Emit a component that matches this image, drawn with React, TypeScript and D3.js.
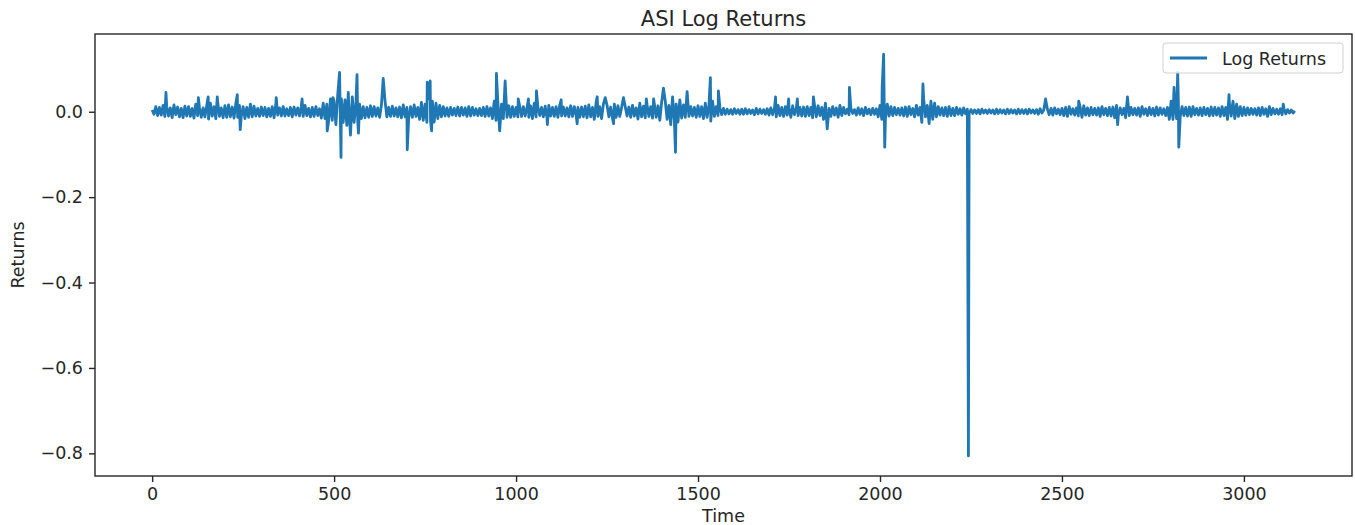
import React, { useEffect, useRef } from "react";
import * as d3 from "d3";

// ASI daily log returns, every 5 days (t = 0, 5, ... 3140)
const bandReturns = [
  0.004, -0.006, 0.012, -0.009, 0.01, -0.008, 0.015, -0.011, 0.013, -0.01, 0.009, -0.014, 0.016, -0.007, 0.011, -0.012, 0.008, -0.014, 0.013, -0.01,
  0.012, -0.011, 0.008, -0.015, 0.018, -0.009, 0.01, -0.013, 0.009, -0.012, 0.014, -0.017, 0.02, -0.01, 0.012, -0.016, 0.024, -0.011, 0.009, -0.014,
  0.014, -0.013, 0.016, -0.012, 0.011, -0.015, 0.02, -0.013, 0.015, -0.011, 0.012, -0.016, 0.01, -0.013, 0.018, -0.012, 0.013, -0.01, 0.008, -0.011,
  0.011, -0.009, 0.01, -0.012, 0.008, -0.011, 0.012, -0.014, 0.019, -0.008, 0.009, -0.01, 0.012, -0.01, 0.007, -0.009, 0.01, -0.012, 0.011, -0.008,
  0.009, -0.01, 0.013, -0.011, 0.015, -0.009, 0.008, -0.012, 0.01, -0.011, 0.012, -0.009, 0.007, -0.015, 0.02, -0.016, 0.018, -0.022, 0.03, -0.02,
  0.025, -0.03, 0.04, -0.028, 0.03, -0.025, 0.028, -0.032, 0.022, -0.03, 0.035, -0.025, 0.02, -0.022, 0.018, -0.016, 0.012, -0.014, 0.01, -0.013,
  0.014, -0.011, 0.012, -0.01, 0.009, -0.013, 0.015, -0.018, 0.025, -0.012, 0.01, -0.011, 0.013, -0.01, 0.009, -0.012, 0.011, -0.014, 0.016, -0.012,
  0.01, -0.015, 0.012, -0.013, 0.016, -0.011, 0.01, -0.018, 0.022, -0.02, 0.018, -0.025, 0.03, -0.022, 0.025, -0.024, 0.02, -0.016, 0.015, -0.012,
  0.012, -0.01, 0.009, -0.011, 0.01, -0.008, 0.008, -0.009, 0.011, -0.01, 0.01, -0.008, 0.009, -0.011, 0.012, -0.01, 0.01, -0.008, 0.007, -0.009,
  0.008, -0.009, 0.01, -0.011, 0.012, -0.01, 0.009, -0.016, 0.025, -0.02, 0.022, -0.02, 0.018, -0.016, 0.015, -0.013, 0.014, -0.013, 0.012, -0.011,
  0.01, -0.012, 0.013, -0.011, 0.012, -0.01, 0.009, -0.013, 0.014, -0.016, 0.02, -0.012, 0.011, -0.009, 0.01, -0.012, 0.013, -0.014, 0.015, -0.01,
  0.01, -0.011, 0.012, -0.013, 0.015, -0.01, 0.011, -0.01, 0.009, -0.012, 0.014, -0.011, 0.012, -0.009, 0.01, -0.013, 0.011, -0.012, 0.013, -0.014,
  0.016, -0.012, 0.01, -0.018, 0.022, -0.011, 0.012, -0.016, 0.018, -0.014, 0.015, -0.012, 0.011, -0.016, 0.018, -0.013, 0.014, -0.011, 0.01, -0.012,
  0.012, -0.01, 0.011, -0.013, 0.015, -0.01, 0.009, -0.017, 0.02, -0.012, 0.013, -0.014, 0.016, -0.011, 0.012, -0.015, 0.018, -0.013, 0.014, -0.02,
  0.022, -0.02, 0.025, -0.018, 0.015, -0.03, 0.035, -0.02, 0.018, -0.024, 0.028, -0.015, 0.016, -0.013, 0.014, -0.011, 0.012, -0.01, 0.01, -0.013,
  0.014, -0.011, 0.012, -0.016, 0.02, -0.013, 0.015, -0.022, 0.025, -0.011, 0.012, -0.009, 0.01, -0.007, 0.008, -0.006, 0.006, -0.005, 0.005, -0.006,
  0.007, -0.004, 0.005, -0.006, 0.006, -0.006, 0.007, -0.005, 0.005, -0.004, 0.004, -0.007, 0.008, -0.005, 0.006, -0.004, 0.005, -0.006, 0.007, -0.008,
  0.009, -0.007, 0.008, -0.012, 0.015, -0.009, 0.01, -0.011, 0.012, -0.008, 0.009, -0.013, 0.014, -0.007, 0.008, -0.009, 0.01, -0.01, 0.011, -0.011,
  0.012, -0.009, 0.01, -0.014, 0.016, -0.012, 0.014, -0.009, 0.01, -0.018, 0.02, -0.009, 0.008, -0.011, 0.012, -0.008, 0.009, -0.013, 0.015, -0.009,
  0.01, -0.005, 0.006, -0.007, 0.008, -0.004, 0.005, -0.008, 0.009, -0.006, 0.007, -0.009, 0.01, -0.005, 0.006, -0.007, 0.008, -0.006, 0.007, -0.012,
  0.015, -0.018, 0.02, -0.016, 0.018, -0.01, 0.012, -0.009, 0.01, -0.007, 0.008, -0.008, 0.009, -0.01, 0.011, -0.011, 0.012, -0.007, 0.008, -0.012,
  0.015, -0.008, 0.01, -0.025, 0.03, -0.012, 0.015, -0.028, 0.025, -0.018, 0.02, -0.012, 0.012, -0.008, 0.009, -0.009, 0.01, -0.011, 0.012, -0.009,
  0.008, -0.009, 0.01, -0.006, 0.007, -0.008, 0.009, -0.005, 0.006, -0.004, 0.005, -0.004, 0.004, -0.004, 0.005, -0.005, 0.006, -0.003, 0.004, -0.004,
  0.005, -0.003, 0.004, -0.005, 0.006, -0.004, 0.005, -0.003, 0.004, -0.005, 0.006, -0.004, 0.005, -0.003, 0.004, -0.005, 0.006, -0.004, 0.005, -0.004,
  0.005, -0.005, 0.006, -0.003, 0.004, -0.004, 0.005, -0.006, 0.007, -0.003, 0.004, -0.005, 0.006, -0.007, 0.008, -0.008, 0.009, -0.005, 0.006, -0.007,
  0.008, -0.009, 0.01, -0.011, 0.012, -0.006, 0.007, -0.008, 0.009, -0.01, 0.011, -0.013, 0.014, -0.008, 0.009, -0.009, 0.01, -0.007, 0.008, -0.008,
  0.009, -0.011, 0.012, -0.007, 0.008, -0.009, 0.01, -0.01, 0.011, -0.014, 0.015, -0.008, 0.009, -0.007, 0.008, -0.014, 0.016, -0.009, 0.01, -0.007,
  0.008, -0.008, 0.009, -0.011, 0.012, -0.006, 0.007, -0.009, 0.01, -0.007, 0.008, -0.01, 0.011, -0.008, 0.009, -0.006, 0.007, -0.009, 0.01, -0.018,
  0.025, -0.018, 0.02, -0.016, 0.018, -0.011, 0.012, -0.009, 0.01, -0.01, 0.011, -0.011, 0.012, -0.007, 0.008, -0.008, 0.009, -0.009, 0.01, -0.007,
  0.008, -0.01, 0.011, -0.009, 0.01, -0.008, 0.009, -0.011, 0.012, -0.009, 0.01, -0.018, 0.022, -0.01, 0.025, -0.016, 0.018, -0.011, 0.012, -0.009,
  0.01, -0.008, 0.009, -0.007, 0.008, -0.006, 0.007, -0.008, 0.009, -0.009, 0.01, -0.006, 0.007, -0.011, 0.012, -0.007, 0.008, -0.005, 0.006, -0.006,
  0.007, -0.007, 0.008, -0.005, 0.005, -0.003, 0.004, -0.003, 0.002,
];

// single-day spikes that stand out of the band
const spikeDays = [
  38, 127, 154, 179, 234, 242, 341, 412, 481, 497, 515, 519, 539, 545, 563, 567,
  635, 701, 756, 764, 768, 946, 955, 970, 1006, 1034, 1056, 1086, 1124, 1168,
  1223, 1245, 1268, 1295, 1358, 1378, 1405, 1438, 1470, 1534, 1556, 1713, 1749,
  1773, 1817, 1855, 1916, 2006, 2010, 2013, 2118, 2243, 2455, 2546, 2653, 2680,
  2808, 2818, 2821, 2959, 3108,
];
const spikeReturns = [
  0.045, 0.033, 0.035, 0.035, 0.04, -0.042, 0.033, 0.03, -0.045, 0.033, 0.092,
  -0.107, 0.045, -0.055, 0.087, -0.05, 0.078, -0.089, 0.069, 0.072, -0.045,
  0.09, -0.045, 0.072, 0.03, 0.03, 0.049, -0.03, 0.028, -0.028,
  0.035, 0.033, -0.028, 0.033, 0.03, 0.03, 0.055, -0.095, 0.047, 0.08, 0.049, 0.035, 0.03,
  0.03, 0.035, -0.04, 0.057, 0.057, 0.135, -0.083, 0.065, -0.806, 0.03, 0.025, -0.03, 0.035,
  0.057, 0.092, -0.083, 0.04, 0.018,
];

const xTicks = [0, 500, 1000, 1500, 2000, 2500, 3000];
const yTicks = [0, -0.2, -0.4, -0.6, -0.8];

const W = 1355;
const H = 525;
const FONT = "DejaVu Sans, sans-serif";
const BLUE = "#1f77b4";
const INK = "#262626";

const App = () => {
  const svgRef = useRef<SVGSVGElement | null>(null);

  useEffect(() => {
    if (!svgRef.current) return;
    const svg = d3.select(svgRef.current);
    svg.selectAll("*").remove();

    const byDay = new Map<number, number>();
    bandReturns.forEach((v, i) => byDay.set(i * 5, v));
    spikeDays.forEach((t, i) => byDay.set(t, spikeReturns[i]));
    const series = Array.from(byDay, ([t, v]) => ({ t, v })).sort((a, b) => a.t - b.t);

    const margin = { top: 34, right: 3, bottom: 49, left: 95 };
    const width = W - margin.left - margin.right;
    const height = H - margin.top - margin.bottom;

    // matplotlib style 5% padding around the data
    const [t0, t1] = d3.extent(series, (d) => d.t) as [number, number];
    const [v0, v1] = d3.extent(series, (d) => d.v) as [number, number];
    const tp = (t1 - t0) * 0.05;
    const vp = (v1 - v0) * 0.05;

    const x = d3.scaleLinear().domain([t0 - tp, t1 + tp]).range([0, width]);
    const y = d3.scaleLinear().domain([v0 - vp, v1 + vp]).range([height, 0]);

    svg
      .append("text")
      .attr("x", margin.left + width / 2)
      .attr("y", 25.5)
      .attr("text-anchor", "middle")
      .style("font-family", FONT)
      .style("font-size", "21px")
      .style("fill", INK)
      .text("ASI Log Returns");

    const g = svg
      .append("g")
      .attr("transform", `translate(${margin.left},${margin.top})`);

    const fmt = (d: number) => d3.format(".1f")(d).replace("-", "\u2212");

    const xAxis = g
      .append("g")
      .attr("transform", `translate(0,${height})`)
      .call(d3.axisBottom(x).tickValues(xTicks).tickSize(6).tickPadding(6).tickFormat(d3.format("d")));
    const yAxis = g
      .append("g")
      .call(d3.axisLeft(y).tickValues(yTicks).tickSize(6).tickPadding(6).tickFormat((d) => fmt(d as number)));

    [xAxis, yAxis].forEach((a) => {
      a.select(".domain").remove();
      a.selectAll(".tick line").attr("stroke", INK).attr("stroke-width", 1.4);
      a.selectAll("text")
        .style("font-family", FONT)
        .style("font-size", "17.5px")
        .style("fill", INK);
    });

    const line = d3
      .line<{ t: number; v: number }>()
      .x((d) => x(d.t))
      .y((d) => y(d.v));

    g.append("path")
      .datum(series)
      .attr("fill", "none")
      .attr("stroke", BLUE)
      .attr("stroke-width", 2.8)
      .attr("stroke-linejoin", "round")
      .attr("d", line);

    g.append("rect")
      .attr("width", width)
      .attr("height", height)
      .attr("fill", "none")
      .attr("stroke", INK)
      .attr("stroke-width", 1.4);

    g.append("text")
      .attr("x", width / 2)
      .attr("y", height + 45.5)
      .attr("text-anchor", "middle")
      .style("font-family", FONT)
      .style("font-size", "17.5px")
      .style("fill", INK)
      .text("Time");

    g.append("text")
      .attr("transform", `translate(${-71.5},${height / 2}) rotate(-90)`)
      .attr("text-anchor", "middle")
      .style("font-family", FONT)
      .style("font-size", "17.5px")
      .style("fill", INK)
      .text("Returns");

    const legend = g.append("g").attr("transform", `translate(${width - 189},9)`);
    legend
      .append("rect")
      .attr("width", 180)
      .attr("height", 30)
      .attr("rx", 3)
      .attr("fill", "white")
      .attr("fill-opacity", 0.8)
      .attr("stroke", "#d0d0d0");
    legend
      .append("line")
      .attr("x1", 7)
      .attr("x2", 44)
      .attr("y1", 15)
      .attr("y2", 15)
      .attr("stroke", BLUE)
      .attr("stroke-width", 2.8);
    legend
      .append("text")
      .attr("x", 59)
      .attr("y", 21.5)
      .style("font-family", FONT)
      .style("font-size", "17.5px")
      .style("fill", INK)
      .text("Log Returns");
  }, []);

  return (
    <svg
      ref={svgRef}
      width={W}
      height={H}
      style={{ position: "absolute", left: 0, top: 0, background: "white" }}
    />
  );
};

export default App;
